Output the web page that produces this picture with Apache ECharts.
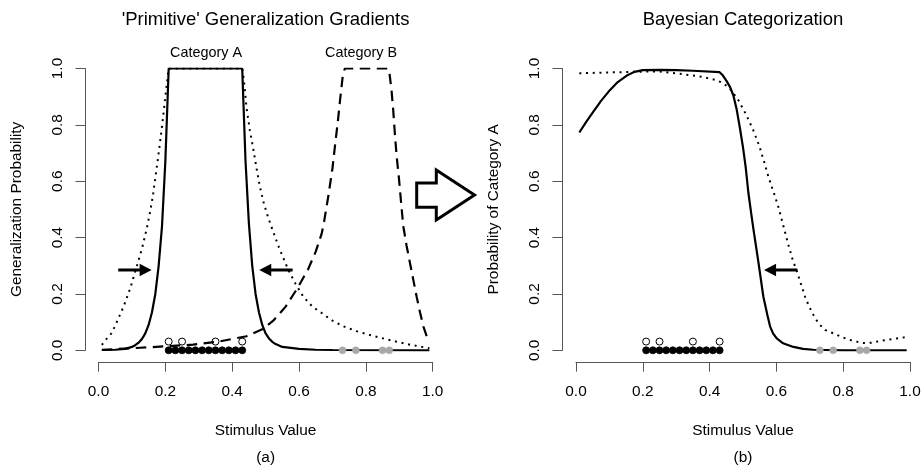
<!DOCTYPE html>
<html>
<head>
<meta charset="utf-8">
<script src="https://cdn.jsdelivr.net/npm/echarts/dist/echarts.min.js"></script>
<style>
  html, body { margin: 0; padding: 0; background: #fff; }
  #chart { width: 924px; height: 468px; }
</style>
</head>
<body>
<div id="chart"></div>
<script>
// ---- Panel (a): primitive generalization gradients, [stimulus, probability] ----
const gradASolid = [
  [0.01, 0.001], [0.05, 0.002], [0.08, 0.005], [0.10, 0.012], [0.11, 0.018],
  [0.12, 0.027], [0.13, 0.04], [0.14, 0.06], [0.15, 0.09], [0.16, 0.135],
  [0.17, 0.2], [0.18, 0.3], [0.19, 0.44], [0.20, 0.67], [0.21, 1.0],
  [0.43, 1.0], [0.44, 0.67], [0.45, 0.45], [0.46, 0.3], [0.47, 0.2],
  [0.48, 0.135], [0.49, 0.09], [0.50, 0.06], [0.51, 0.042], [0.52, 0.03],
  [0.53, 0.022], [0.55, 0.012], [0.60, 0.005], [0.65, 0.002], [0.70, 0.001],
  [0.99, 0.0]
];
const gradADotted = [
  [0.01, 0.019], [0.02, 0.035], [0.04, 0.062], [0.05, 0.088], [0.075, 0.155],
  [0.095, 0.22], [0.115, 0.30], [0.13, 0.36], [0.145, 0.435], [0.155, 0.495],
  [0.163, 0.55], [0.171, 0.62], [0.179, 0.69], [0.187, 0.765], [0.194, 0.835],
  [0.20, 0.9], [0.205, 0.95], [0.21, 1.0], [0.43, 1.0], [0.435, 0.96],
  [0.443, 0.86], [0.453, 0.78], [0.463, 0.715], [0.473, 0.645], [0.483, 0.58],
  [0.495, 0.52], [0.508, 0.47], [0.52, 0.43], [0.54, 0.365], [0.568, 0.285],
  [0.59, 0.235], [0.613, 0.19], [0.64, 0.155], [0.673, 0.128], [0.70, 0.105],
  [0.733, 0.085], [0.772, 0.068], [0.81, 0.055], [0.842, 0.045], [0.89, 0.031],
  [0.932, 0.02], [0.96, 0.014], [0.99, 0.007]
];
const gradBDashed = [
  [0.01, 0.002], [0.05, 0.004], [0.125, 0.009], [0.20, 0.014], [0.283, 0.02],
  [0.364, 0.032], [0.443, 0.05], [0.49, 0.075], [0.523, 0.105], [0.56, 0.155],
  [0.595, 0.22], [0.627, 0.287], [0.65, 0.35], [0.668, 0.415], [0.675, 0.456],
  [0.688, 0.55], [0.70, 0.645], [0.708, 0.73], [0.716, 0.81], [0.723, 0.89],
  [0.731, 0.975], [0.737, 1.0], [0.867, 1.0], [0.87, 0.99], [0.877, 0.92],
  [0.882, 0.85], [0.887, 0.765], [0.892, 0.69], [0.899, 0.61], [0.905, 0.53],
  [0.912, 0.44], [0.922, 0.37], [0.932, 0.31], [0.942, 0.25], [0.952, 0.19],
  [0.962, 0.135], [0.972, 0.085], [0.982, 0.05], [0.99, 0.03]
];

// ---- Panel (b): probability of category A ----
const bayesSolid = [
  [0.01, 0.773], [0.03, 0.81], [0.052, 0.847], [0.075, 0.885], [0.102, 0.924],
  [0.125, 0.952], [0.152, 0.975], [0.175, 0.988], [0.20, 0.994], [0.25, 0.995],
  [0.30, 0.994], [0.35, 0.992], [0.43, 0.987], [0.44, 0.975], [0.451, 0.955],
  [0.461, 0.935], [0.471, 0.905], [0.481, 0.855], [0.491, 0.787], [0.50, 0.72],
  [0.508, 0.65], [0.516, 0.56], [0.524, 0.49], [0.531, 0.432], [0.546, 0.314],
  [0.561, 0.19], [0.573, 0.125], [0.581, 0.085], [0.59, 0.06], [0.601, 0.042],
  [0.62, 0.025], [0.651, 0.012], [0.68, 0.005], [0.71, 0.002], [0.80, 0.0],
  [0.99, 0.0]
];
const bayesDotted = [
  [0.01, 0.983], [0.10, 0.986], [0.20, 0.989], [0.25, 0.989], [0.30, 0.983],
  [0.37, 0.972], [0.42, 0.959], [0.44, 0.948], [0.46, 0.93], [0.485, 0.89],
  [0.51, 0.835], [0.53, 0.783], [0.548, 0.728], [0.563, 0.67], [0.576, 0.616],
  [0.591, 0.563], [0.603, 0.52], [0.611, 0.486], [0.623, 0.432], [0.636, 0.374],
  [0.649, 0.32], [0.66, 0.285], [0.673, 0.237], [0.686, 0.19], [0.698, 0.155],
  [0.711, 0.125], [0.726, 0.095], [0.746, 0.072], [0.771, 0.06], [0.80, 0.045],
  [0.83, 0.033], [0.86, 0.026], [0.885, 0.027], [0.91, 0.033], [0.935, 0.038],
  [0.96, 0.042], [0.99, 0.047]
];

// ---- Training stimuli (shared by both panels) ----
const trainA = [0.21, 0.23, 0.25, 0.27, 0.29, 0.31, 0.33, 0.35, 0.37, 0.39, 0.41, 0.43];
const trainALevel = 0.0;
const probeA = [0.21, 0.25, 0.35, 0.43];
const probeALevel = 0.031;
const trainB = [0.73, 0.77, 0.85, 0.87];
const trainBLevel = 0.0;

// ---- Arrows: [xFrom, yFrom, xTo, yTo] ----
const arrowsA = [[0.059, 0.285, 0.159, 0.285], [0.581, 0.285, 0.481, 0.285]];
const arrowsB = [[0.663, 0.285, 0.563, 0.285]];

// ---- Text ----
const titleA = "'Primitive' Generalization Gradients";
const titleB = 'Bayesian Categorization';
const yNameA = 'Generalization Probability';
const yNameB = 'Probability of Category A';
const xName = 'Stimulus Value';
const catLabels = ['Category A', 'Category B'];
const panelTags = ['(a)', '(b)'];

const FONT = '"Liberation Sans", Arial, Helvetica, sans-serif';
const BASE = 15.4;

const chart = echarts.init(document.getElementById('chart'), null, { renderer: 'canvas' });

const grids = [
  { left: 98.5, right: 924 - 432.7, top: 68.5, bottom: 468 - 350.3 },
  { left: 576, right: 924 - 910, top: 68.5, bottom: 468 - 350.3 }
];

function xAxisFor(i) {
  return {
    gridIndex: i, type: 'value', min: 0, max: 1, interval: 0.2,
    offset: 11.8,
    name: xName, nameLocation: 'middle', nameGap: 61,
    nameTextStyle: { fontSize: BASE, color: '#000', fontFamily: FONT },
    axisLine: { show: true, onZero: false, lineStyle: { color: '#555', width: 1 } },
    axisTick: { show: true, length: 9.5, lineStyle: { color: '#555', width: 1 } },
    axisLabel: { margin: 22, fontSize: BASE, color: '#000', fontFamily: FONT,
      formatter: v => v.toFixed(1) },
    splitLine: { show: false }
  };
}
function yAxisFor(i, name, off) {
  return {
    gridIndex: i, type: 'value', min: 0, max: 1, interval: 0.2,
    offset: off,
    name: name, nameLocation: 'middle', nameGap: 61,
    nameTextStyle: { fontSize: BASE, color: '#000', fontFamily: FONT },
    axisLine: { show: true, onZero: false, lineStyle: { color: '#555', width: 1 } },
    axisTick: { show: true, length: 9.5, lineStyle: { color: '#555', width: 1 } },
    axisLabel: { rotate: 90, margin: 20, fontSize: BASE, color: '#000', fontFamily: FONT,
      formatter: v => v.toFixed(1) },
    splitLine: { show: false }
  };
}

const SOLID = { color: '#000', width: 2.2, type: 'solid' };
const DOTTED = { color: '#000', width: 2, type: [2, 4.7], cap: 'butt' };
const DASHED = { color: '#000', width: 2.2, type: [10.5, 6.5], cap: 'butt' };

function curve(i, data, style) {
  return {
    type: 'line', xAxisIndex: i, yAxisIndex: i, data: data,
    showSymbol: false, symbol: 'none', smooth: false, silent: true,
    lineStyle: style, z: 2
  };
}

function points(i, xs, level, style, size) {
  return {
    type: 'scatter', xAxisIndex: i, yAxisIndex: i,
    data: xs.map(x => [x, level]),
    symbol: 'circle', symbolSize: size, silent: true, z: 4,
    itemStyle: style
  };
}

function renderArrow(params, api) {
  const p1 = api.coord([api.value(0), api.value(1)]);
  const p2 = api.coord([api.value(2), api.value(3)]);
  const dx = p2[0] - p1[0], dy = p2[1] - p1[1];
  const len = Math.hypot(dx, dy) || 1;
  const ux = dx / len, uy = dy / len;
  const headL = 12, headW = 6.3;
  const bx = p2[0] - ux * headL, by = p2[1] - uy * headL;
  return {
    type: 'group',
    children: [
      { type: 'line', shape: { x1: p1[0], y1: p1[1], x2: bx + ux * 2, y2: by + uy * 2 },
        style: { stroke: '#000', lineWidth: 3 } },
      { type: 'polygon',
        shape: { points: [[p2[0], p2[1]], [bx - uy * headW, by + ux * headW], [bx + uy * headW, by - ux * headW]] },
        style: { fill: '#000' } }
    ]
  };
}

function arrows(i, data) {
  return {
    type: 'custom', xAxisIndex: i, yAxisIndex: i, data: data,
    renderItem: renderArrow, silent: true, z: 3,
    encode: { x: [0, 2], y: [1, 3] }
  };
}

const filledStyle = { color: '#000', borderColor: '#000', borderWidth: 0.8, opacity: 1 };
const openStyle = { color: 'rgba(0,0,0,0)', borderColor: '#000', borderWidth: 1, opacity: 1 };
const grayStyle = { color: '#a8a8a8', borderColor: '#a8a8a8', borderWidth: 0.5, opacity: 1 };

const series = [];
[0, 1].forEach(i => {
  if (i === 0) {
    series.push(curve(0, gradBDashed, DASHED));
    series.push(curve(0, gradADotted, DOTTED));
    series.push(curve(0, gradASolid, SOLID));
    series.push(arrows(0, arrowsA));
  } else {
    series.push(curve(1, bayesDotted, DOTTED));
    series.push(curve(1, bayesSolid, SOLID));
    series.push(arrows(1, arrowsB));
  }
  series.push(points(i, trainA, trainALevel, filledStyle, 7));
  series.push(points(i, probeA, probeALevel, openStyle, 7));
  series.push(points(i, trainB, trainBLevel, grayStyle, 7));
});

function label(text, x, y, size) {
  return {
    type: 'text', x: x, y: y, silent: true,
    style: { text: text, fill: '#000', font: size + 'px ' + FONT, align: 'center', verticalAlign: 'middle' }
  };
}

const option = {
  animation: false,
  backgroundColor: '#fff',
  textStyle: { fontFamily: FONT },
  grid: grids,
  xAxis: [xAxisFor(0), xAxisFor(1)],
  yAxis: [yAxisFor(0, yNameA, 13.5), yAxisFor(1, yNameB, 14)],
  series: series,
  graphic: [
    label(titleA, 265.6, 19.5, 18.5),
    label(titleB, 743, 19.5, 18.5),
    label(catLabels[0], 206, 53, 14.4),
    label(catLabels[1], 361, 53, 14.4),
    label(panelTags[0], 265.6, 457.5, BASE),
    label(panelTags[1], 743, 457.5, BASE),
    {
      type: 'polygon', silent: true,
      shape: { points: [[416.7, 183], [436.3, 183], [436.3, 170], [474.5, 195], [436.3, 220], [436.3, 207.3], [416.7, 207.3]] },
      style: { fill: '#fff', stroke: '#000', lineWidth: 3, lineJoin: 'miter' }
    }
  ]
};

chart.setOption(option);
</script>
</body>
</html>
